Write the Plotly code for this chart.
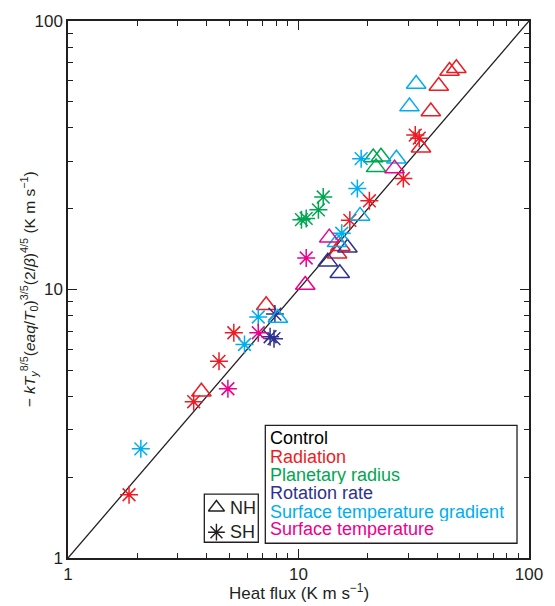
import plotly.graph_objects as go

# ---------------- data ----------------
# Radiation (red)
rad_nh_x = [48.4, 45.2, 40.6, 37.5, 34.0, 7.24, 3.79, 14.7, 15.2]
rad_nh_y = [66.7, 65.1, 57.3, 46.0, 33.7, 8.74, 4.16, 13.6, 14.5]
rad_sh_x = [1.84, 3.51, 4.52, 5.24, 16.7, 20.3, 28.5, 32.1, 33.4]
rad_sh_y = [1.72, 3.82, 5.40, 6.90, 18.1, 21.4, 25.9, 37.6, 36.6]

# Planetary radius (green)
pr_nh_x = [21.1, 22.8, 21.7]
pr_nh_y = [31.0, 31.2, 28.5]
pr_sh_x = [10.3, 10.8, 12.2, 12.8]
pr_sh_y = [18.2, 18.4, 19.8, 22.1]

# Rotation rate (navy)
rot_nh_x = [16.3, 13.4, 15.1]
rot_nh_y = [14.3, 12.7, 11.5]
rot_sh_x = [7.90, 7.53, 7.83]
rot_sh_y = [8.10, 6.67, 6.56]

# Surface temperature gradient (cyan)
stg_nh_x = [32.4, 30.3, 26.6, 18.5, 14.7, 8.14]
stg_nh_y = [58.3, 48.0, 30.7, 18.8, 15.0, 7.83]
stg_sh_x = [18.7, 18.0, 15.4, 6.69, 5.83, 2.07]
stg_sh_y = [30.7, 23.8, 16.2, 7.90, 6.24, 2.55]

# Surface temperature (pink)
st_nh_x = [10.7, 13.6, 26.1]
st_nh_y = [10.4, 15.6, 28.2]
st_sh_x = [4.94, 6.69, 10.8]
st_sh_y = [4.27, 6.90, 13.1]

# one-to-one line
line_x = [1, 100]
line_y = [1, 100]

major_ticks = [1, 10, 100]
minor_ticks = [2, 3, 4, 5, 6, 7, 8, 9, 20, 30, 40, 50, 60, 70, 80, 90]

legend_labels = ["Control", "Radiation", "Planetary radius", "Rotation rate",
                 "Surface temperature gradient", "Surface temperature"]

# ---------------- styles ----------------
RED = "#ED1C24"
GREEN = "#00A651"
NAVY = "#2E3192"
CYAN = "#00AEEF"
PINK = "#EC008C"
legend_colors = ["#000000", RED, GREEN, NAVY, CYAN, PINK]
FONT = "Liberation Sans, Arial, Helvetica, sans-serif"
INK = "#231F20"

fig = go.Figure()

fig.add_trace(go.Scatter(x=line_x, y=line_y, mode="lines",
                         line=dict(color=INK, width=1.3), hoverinfo="skip"))

TRI = dict(symbol="triangle-up-open", size=17, line=dict(width=1.5))
AST = dict(symbol="asterisk-open", size=15, line=dict(width=1.5))

series = [
    (rad_nh_x, rad_nh_y, RED, TRI), (rad_sh_x, rad_sh_y, RED, AST),
    (pr_nh_x, pr_nh_y, GREEN, TRI), (pr_sh_x, pr_sh_y, GREEN, AST),
    (rot_nh_x, rot_nh_y, NAVY, TRI), (rot_sh_x, rot_sh_y, NAVY, AST),
    (stg_nh_x, stg_nh_y, CYAN, TRI), (stg_sh_x, stg_sh_y, CYAN, AST),
    (st_nh_x, st_nh_y, PINK, TRI), (st_sh_x, st_sh_y, PINK, AST),
]
for xs, ys, col, m in series:
    mk = dict(m)
    mk["color"] = col
    mk["line"] = dict(width=m["line"]["width"], color=col)
    fig.add_trace(go.Scatter(x=xs, y=ys, mode="markers", marker=mk))

# NH / SH key markers on an overlay 0..1 axis
fig.add_trace(go.Scatter(x=[0.322], y=[0.094], mode="markers", xaxis="x2", yaxis="y2",
                         marker=dict(symbol="triangle-up-open", size=14,
                                     color=INK, line=dict(width=1.4, color=INK))))
fig.add_trace(go.Scatter(x=[0.322], y=[0.048], mode="markers", xaxis="x2", yaxis="y2",
                         marker=dict(symbol="asterisk-open", size=14,
                                     color=INK, line=dict(width=1.4, color=INK))))

axis_common = dict(
    type="log", range=[0, 2], tickvals=major_ticks, ticktext=[str(v) for v in major_ticks],
    ticks="inside", ticklen=9, tickwidth=1.3, tickcolor=INK,
    minor=dict(tickvals=minor_ticks, ticks="inside", ticklen=5, tickwidth=1.1, tickcolor=INK),
    showline=True, linecolor=INK, linewidth=1.5, mirror="allticks",
    showgrid=False, zeroline=False,
    tickfont=dict(family=FONT, size=17, color=INK),
)

annotations = []
ys_text = [0.2234, 0.1886, 0.1538, 0.1209, 0.0861, 0.0531]
for lab, col, yv in zip(legend_labels, legend_colors, ys_text):
    annotations.append(dict(x=0.434, y=yv, xref="paper", yref="paper", text=lab,
                            showarrow=False, xanchor="left", yanchor="middle",
                            height=18, valign="middle",
                            font=dict(family=FONT, size=18, color=col)))
annotations.append(dict(x=0.348, y=0.094, xref="paper", yref="paper", text="NH",
                        showarrow=False, xanchor="left", yanchor="middle",
                        font=dict(family=FONT, size=18, color=INK)))
annotations.append(dict(x=0.348, y=0.048, xref="paper", yref="paper", text="SH",
                        showarrow=False, xanchor="left", yanchor="middle",
                        font=dict(family=FONT, size=18, color=INK)))
annotations.append(dict(x=0.5, y=-0.064, xref="paper", yref="paper",
                        text="Heat flux (K m s<sup>−1</sup>)", showarrow=False,
                        xanchor="center", yanchor="middle",
                        font=dict(family=FONT, size=17, color=INK)))
annotations.append(dict(x=-0.085, y=0.5, xref="paper", yref="paper", textangle=-90,
                        text="− <i>kT</i><sub><i>y</i></sub><sup>8/5</sup>(<i>eaq</i>/<i>T</i><sub>0</sub>)"
                             "<sup>3/5</sup>(2/<i>β</i>)<sup>4/5</sup> (K m s<sup>−1</sup>)",
                        showarrow=False, xanchor="center", yanchor="middle",
                        font=dict(family=FONT, size=15.5, color=INK)))

shapes = [
    dict(type="rect", xref="paper", yref="paper", x0=0.428, x1=0.974, y0=0.0275, y1=0.247,
         line=dict(color=INK, width=1.3), fillcolor="white", layer="below"),
    dict(type="rect", xref="paper", yref="paper", x0=0.2957, x1=0.4128, y0=0.0293, y1=0.119,
         line=dict(color=INK, width=1.3), fillcolor="white", layer="below"),
]

fig.update_layout(
    width=555, height=606,
    margin=dict(l=68, r=17, t=12, b=48),
    paper_bgcolor="white", plot_bgcolor="white",
    showlegend=False,
    xaxis=axis_common,
    yaxis=axis_common,
    xaxis2=dict(overlaying="x", range=[0, 1], visible=False, fixedrange=True),
    yaxis2=dict(overlaying="y", range=[0, 1], visible=False, fixedrange=True),
    annotations=annotations,
    shapes=shapes,
)

fig.write_html("out.html", config={"displayModeBar": False})

# remove the browser's default page margin so the figure sits at the window origin
with open("out.html", "r", encoding="utf-8") as f:
    html = f.read()
html = html.replace("<head>", "<head><style>html,body{margin:0;padding:0;overflow:hidden;}</style>", 1)
with open("out.html", "w", encoding="utf-8") as f:
    f.write(html)
